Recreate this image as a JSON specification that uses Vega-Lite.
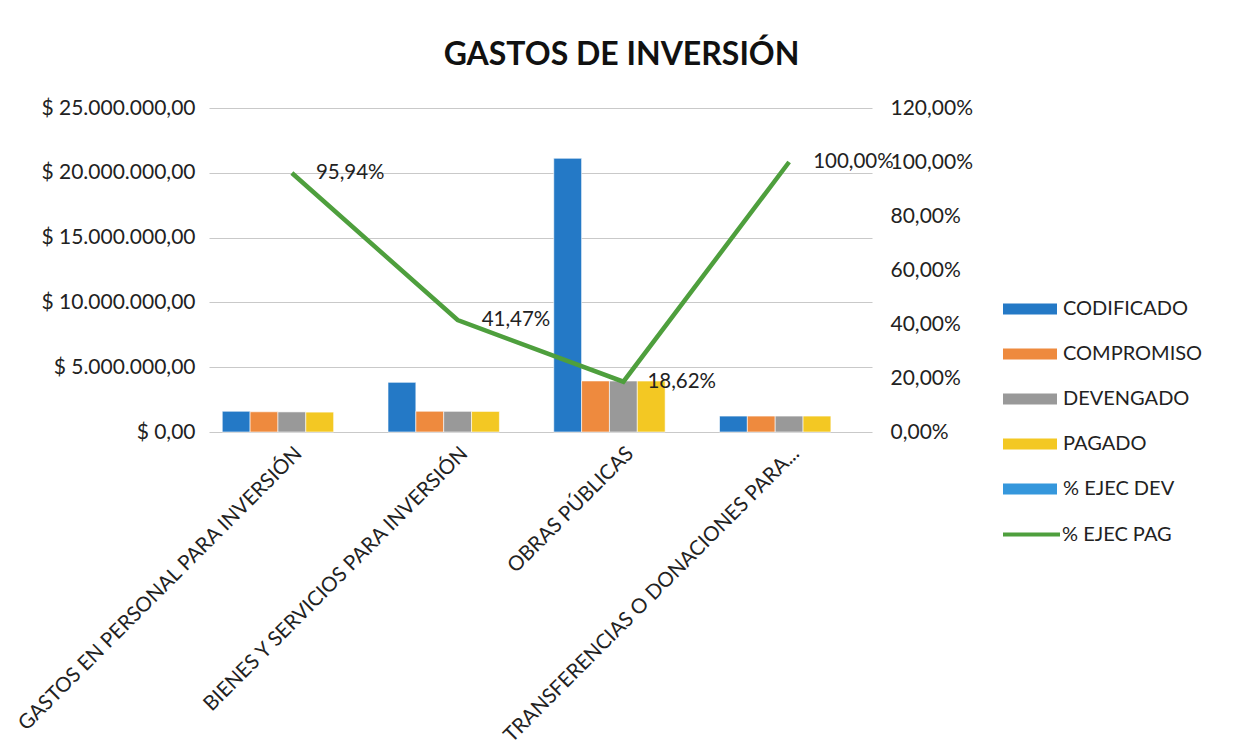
{
  "$schema": "https://vega.github.io/schema/vega-lite/v6.json",
  "width": 663,
  "height": 324,
  "autosize": "none",
  "padding": {"left": 209, "top": 108, "right": 366, "bottom": 324},
  "background": "white",
  "title": {
    "text": "GASTOS DE INVERSIÓN",
    "fontSize": 32,
    "fontWeight": "bold",
    "font": "Lato",
    "color": "#111111",
    "anchor": "middle",
    "frame": "group",
    "dx": 81,
    "offset": 25
  },
  "config": {
    "locale": {"number": {"decimal": ",", "thousands": ".", "grouping": [3], "currency": ["$ ", ""]}},
    "font": "Lato",
    "view": {"stroke": null}
  },
  "datasets": {
    "bars": [
      {"categoria": "GASTOS EN PERSONAL PARA INVERSIÓN", "serie": "CODIFICADO", "monto": 1600000},
      {"categoria": "GASTOS EN PERSONAL PARA INVERSIÓN", "serie": "COMPROMISO", "monto": 1560000},
      {"categoria": "GASTOS EN PERSONAL PARA INVERSIÓN", "serie": "DEVENGADO", "monto": 1550000},
      {"categoria": "GASTOS EN PERSONAL PARA INVERSIÓN", "serie": "PAGADO", "monto": 1535000},
      {"categoria": "BIENES Y SERVICIOS PARA INVERSIÓN", "serie": "CODIFICADO", "monto": 3830000},
      {"categoria": "BIENES Y SERVICIOS PARA INVERSIÓN", "serie": "COMPROMISO", "monto": 1600000},
      {"categoria": "BIENES Y SERVICIOS PARA INVERSIÓN", "serie": "DEVENGADO", "monto": 1595000},
      {"categoria": "BIENES Y SERVICIOS PARA INVERSIÓN", "serie": "PAGADO", "monto": 1588000},
      {"categoria": "OBRAS PÚBLICAS", "serie": "CODIFICADO", "monto": 21120000},
      {"categoria": "OBRAS PÚBLICAS", "serie": "COMPROMISO", "monto": 3940000},
      {"categoria": "OBRAS PÚBLICAS", "serie": "DEVENGADO", "monto": 3935000},
      {"categoria": "OBRAS PÚBLICAS", "serie": "PAGADO", "monto": 3932000},
      {"categoria": "TRANSFERENCIAS O DONACIONES PARA...", "serie": "CODIFICADO", "monto": 1230000},
      {"categoria": "TRANSFERENCIAS O DONACIONES PARA...", "serie": "COMPROMISO", "monto": 1230000},
      {"categoria": "TRANSFERENCIAS O DONACIONES PARA...", "serie": "DEVENGADO", "monto": 1230000},
      {"categoria": "TRANSFERENCIAS O DONACIONES PARA...", "serie": "PAGADO", "monto": 1230000}
    ],
    "pct": [
      {"categoria": "GASTOS EN PERSONAL PARA INVERSIÓN", "serie": "% EJEC PAG", "pct": 0.9594},
      {"categoria": "BIENES Y SERVICIOS PARA INVERSIÓN", "serie": "% EJEC PAG", "pct": 0.4147},
      {"categoria": "OBRAS PÚBLICAS", "serie": "% EJEC PAG", "pct": 0.1862},
      {"categoria": "TRANSFERENCIAS O DONACIONES PARA...", "serie": "% EJEC PAG", "pct": 1.0}
    ]
  },
  "layer": [
    {
      "data": {"name": "bars"},
      "mark": {"type": "bar", "stroke": "#ffffff", "strokeWidth": 0.6},
      "encoding": {
        "x": {
          "field": "categoria", "type": "nominal", "sort": null,
          "scale": {"paddingInner": 0.16, "paddingOuter": 0.08},
          "axis": {"title": null, "labelAngle": -45, "labelFontSize": 20.5, "labelColor": "#222222", "labelLimit": 0, "ticks": false, "domain": false, "labelPadding": 11}
        },
        "xOffset": {
          "field": "serie", "type": "nominal",
          "scale": {"domain": ["CODIFICADO", "COMPROMISO", "DEVENGADO", "PAGADO", "% EJEC DEV"], "paddingInner": 0}
        },
        "y": {
          "field": "monto", "type": "quantitative",
          "scale": {"domain": [0, 25000000], "nice": false},
          "axis": {"title": null, "values": [0, 5000000, 10000000, 15000000, 20000000, 25000000], "format": "$,.2f", "labelFontSize": 21, "labelColor": "#222222", "grid": true, "gridColor": "#c9c9c9", "domain": false, "ticks": false, "labelPadding": 14}
        },
        "color": {
          "field": "serie", "type": "nominal",
          "scale": {"domain": ["CODIFICADO", "COMPROMISO", "DEVENGADO", "PAGADO", "% EJEC DEV"], "range": ["#2479c6", "#ee8a3e", "#999999", "#f3c823", "#3597dc"]},
          "legend": {"title": null, "orient": "none", "legendX": 794, "legendY": 174, "symbolType": "M-1,-0.2L1,-0.2L1,0.2L-1,0.2Z", "symbolSize": 2916, "symbolStrokeWidth": 0, "labelFontSize": 20, "labelColor": "#222222", "labelOffset": 6, "rowPadding": 8}
        }
      }
    },
    {
      "data": {"name": "pct"},
      "mark": {"type": "line", "strokeWidth": 4.5},
      "encoding": {
        "x": {"field": "categoria", "type": "nominal", "sort": null},
        "y": {
          "field": "pct", "type": "quantitative",
          "scale": {"domain": [0, 1.2], "nice": false},
          "axis": {"title": null, "orient": "right", "values": [0, 0.2, 0.4, 0.6, 0.8, 1.0, 1.2], "format": ".2%", "labelFontSize": 21, "labelColor": "#222222", "grid": false, "domain": false, "ticks": false, "labelPadding": 18}
        },
        "stroke": {
          "field": "serie", "type": "nominal",
          "scale": {"domain": ["% EJEC PAG"], "range": ["#4e9f3d"]},
          "legend": {"title": null, "orient": "none", "legendX": 792, "legendY": 396, "symbolType": "M-1,0L1,0", "symbolSize": 3249, "symbolStrokeWidth": 4, "labelFontSize": 20, "labelColor": "#222222", "labelOffset": 0}
        }
      }
    },
    {
      "data": {"name": "pct"},
      "mark": {"type": "text", "align": "left", "baseline": "middle", "dx": 24, "fontSize": 20.5, "color": "#222222"},
      "encoding": {
        "x": {"field": "categoria", "type": "nominal", "sort": null},
        "y": {"field": "pct", "type": "quantitative", "scale": {"domain": [0, 1.2], "nice": false}, "axis": null},
        "text": {"field": "pct", "type": "quantitative", "format": ".2%"}
      }
    }
  ],
  "resolve": {"scale": {"y": "independent"}}
}
